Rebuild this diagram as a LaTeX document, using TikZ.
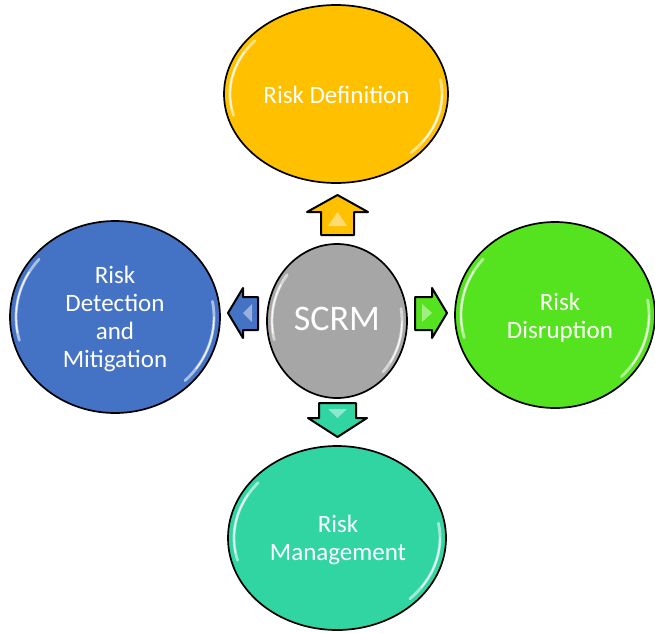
\documentclass[tikz,border=0pt]{standalone}
\usepackage{fontspec}
\setmainfont{Carlito}
\usetikzlibrary{shapes.geometric,calc}
\definecolor{cyel}{HTML}{FFC000}
\definecolor{cblue}{HTML}{4472C4}
\definecolor{cgreen}{HTML}{55E31F}
\definecolor{cteal}{HTML}{31D5A2}
\definecolor{cgrey}{HTML}{A6A6A6}
\begin{document}
\begin{tikzpicture}[x=1pt,y=-1pt,
  bubble/.style={ellipse, draw=black, line width=1.7pt, inner sep=0pt},
  label/.style={text=white, align=center, inner sep=0pt, font=\fontsize{25}{28}\selectfont},
  glow/.style={white, line width=2.8pt, opacity=0.55, line cap=round},
  glowcore/.style={white, line width=1.3pt, opacity=0.85, line cap=round},
  blockarrow/.style={draw=black, line width=2pt, line join=round},
  bevel/.style={white, opacity=0.45}]
\useasboundingbox (0,0) rectangle (655,632);
\fill[white] (0,0) rectangle (655,632);

\node[bubble, fill=cyel, minimum width=224pt, minimum height=178pt] (def) at (336,94) {};
\node[bubble, fill=cblue, minimum width=210pt, minimum height=192pt] (det) at (115,317) {};
\node[bubble, fill=cgreen, minimum width=200pt, minimum height=186pt] (dis) at (555,315) {};
\node[bubble, fill=cteal, minimum width=218pt, minimum height=184pt] (man) at (337,538) {};
\node[bubble, fill=cgrey, minimum width=140pt, minimum height=154pt] (scrm) at (337,321) {};

% glossy highlights
\foreach \n/\a/\b in {def/106/83, det/99/90, dis/94/87, man/103/86, scrm/65/72}{
  \draw[glow] ($(\n.center)+(195:\a pt and \b pt)$) arc[start angle=195, end angle=140, x radius=\a pt, y radius=\b pt];
  \draw[glowcore] ($(\n.center)+(190:\a pt and \b pt)$) arc[start angle=190, end angle=150, x radius=\a pt, y radius=\b pt];
  \draw[glow] ($(\n.center)+(10:\a pt and \b pt)$) arc[start angle=10, end angle=-45, x radius=\a pt, y radius=\b pt];
  \draw[glowcore] ($(\n.center)+(0:\a pt and \b pt)$) arc[start angle=0, end angle=-35, x radius=\a pt, y radius=\b pt];
}

% texts
\node[label] (defT) at ($(def.center)+(0.5,1)$) {Risk Definition};
\node[label] (detT) at ($(det.center)+(0,2)$) {Risk\\Detection\\and\\Mitigation};
\node[label] (disT) at ($(dis.center)+(5,3)$) {Risk\\Disruption};
\node[label] (manT) at ($(man.center)+(1,2)$) {Risk\\Management};
\node[label, font=\fontsize{36}{40}\selectfont] (scrmT) at ($(scrm.center)+(0,-2)$) {SCRM};

% block arrows
\draw[blockarrow, fill=cyel] (337.5,195) -- (368,212) -- (354,212) -- (354,235) -- (321,235) -- (321,212) -- (307,212) -- cycle;
\fill[bevel] (337.5,212) -- (347,226) -- (328,226) -- cycle;

\draw[blockarrow, fill=cblue] (228,313) -- (243,288) -- (243,297) -- (258,297) -- (258,330) -- (243,330) -- (243,338) -- cycle;
\fill[bevel] (243,313) -- (252,304) -- (252,322) -- cycle;

\draw[blockarrow, fill=cgreen] (415,297) -- (432,297) -- (432,288) -- (447,313) -- (432,338) -- (432,330) -- (415,330) -- cycle;
\fill[bevel] (432,313) -- (422,304) -- (422,322) -- cycle;

\draw[blockarrow, fill=cteal] (319,403) -- (356,403) -- (356,418) -- (367,418) -- (337.5,437) -- (308,418) -- (319,418) -- cycle;
\fill[bevel] (337.5,418) -- (328,409) -- (347,409) -- cycle;
\end{tikzpicture}
\end{document}
